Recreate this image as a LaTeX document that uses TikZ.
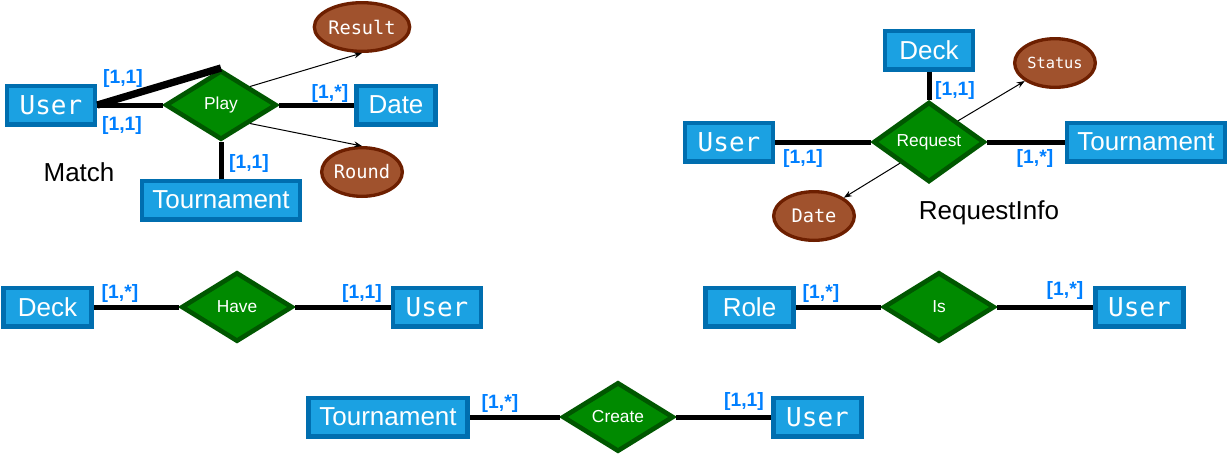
\documentclass[tikz,border=0pt]{standalone}
\usepackage{fontspec}
\setmainfont{Liberation Sans}
\newfontfamily\erMono{DejaVu Sans Mono}
\usetikzlibrary{shapes.geometric,arrows.meta}
\definecolor{entFill}{HTML}{1BA1E2}
\definecolor{entLine}{HTML}{006EAF}
\definecolor{relFill}{HTML}{008A00}
\definecolor{relLine}{HTML}{005700}
\definecolor{attFill}{HTML}{A0522D}
\definecolor{attLine}{HTML}{6D1F00}
\definecolor{cardBlue}{HTML}{007FFF}
\begin{document}
\begin{tikzpicture}[x=0.75pt, y=-0.75pt,
  entity/.style={draw=entLine, fill=entFill, line width=3.5pt, text=white, inner sep=0pt, minimum width=66pt, minimum height=28.75pt, font=\fontsize{19.5}{22}\selectfont},
  monoent/.style={entity, font=\erMono\fontsize{19.5}{22}\selectfont},
  relation/.style={diamond, draw=relLine, fill=relFill, line width=3.5pt, text=white, inner sep=0pt, minimum width=83.5pt, minimum height=52pt, font=\fontsize{13}{15}\selectfont},
  attrib/.style={ellipse, draw=attLine, fill=attFill, line width=2.5pt, text=white, inner sep=0pt, minimum width=60.5pt, minimum height=36.5pt, font=\erMono\fontsize{14}{16}\selectfont},
  card/.style={text=cardBlue, inner sep=0pt, font=\bfseries\fontsize{14.5}{16}\selectfont},
  title/.style={inner sep=0pt, font=\fontsize{19.5}{22}\selectfont},
  link/.style={line width=3.75pt},
  attr link/.style={line width=0.75pt, -{Stealth[length=6pt,width=4.5pt]}}]
\useasboundingbox (0,0) rectangle (1229,458);
% Match
\node[monoent] (userA) at (51,105) {User};
\node[relation] (play) at (221,105) {Play};
\node[entity, minimum width=59.5pt] (dateA) at (396,105) {Date};
\node[entity, minimum width=118.5pt] (tourA) at (221,200) {Tournament};
\node[attrib] (result) at (362,27) {Result};
\node[attrib] (round) at (362,172) {Round};
\node[title] (match) at (79,172) {Match};
\draw[link] (userA.east) -- (play.west);
\draw[line width=5.5pt] (userA.east) -- (play.north);
\draw[link] (play.east) -- (dateA.west);
\draw[link] (play.south) -- (tourA.north);
\draw[attr link] (play.north east) -- (result.south);
\draw[attr link] (play.south east) -- (round.north);
% RequestInfo
\node[entity] (deckB) at (929,50) {Deck};
\node[relation] (request) at (929,142) {Request};
\node[monoent] (userB) at (729,142) {User};
\node[entity, minimum width=118.5pt] (tourB) at (1146,142) {Tournament};
\node[attrib, font=\erMono\fontsize{11.5}{13}\selectfont] (status) at (1055,63) {Status};
\node[attrib] (dateB) at (814,216) {Date};
\node[title] (reqinfo) at (989,213) {RequestInfo};
\draw[link] (deckB.south) -- (request.north);
\draw[link] (userB.east) -- (request.west);
\draw[link] (request.east) -- (tourB.west);
\draw[attr link] (request.north east) -- (status);
\draw[attr link] (request.south west) -- (dateB);
% Have
\node[entity] (deckC) at (47.5,307) {Deck};
\node[relation] (have) at (237,307) {Have};
\node[monoent] (userC) at (437,307) {User};
\draw[link] (deckC) -- (have) -- (userC);
% Is
\node[entity] (role) at (749.5,307) {Role};
\node[relation] (is) at (939,307) {Is};
\node[monoent] (userD) at (1139.5,307) {User};
\draw[link] (role) -- (is) -- (userD);
% Create
\node[entity, minimum width=119.5pt] (tourE) at (388,417) {Tournament};
\node[relation] (create) at (618,417) {Create};
\node[monoent] (userE) at (817.5,417) {User};
\draw[link] (tourE) -- (create) -- (userE);
% cardinalities
\foreach \n/\x/\y/\t in {a/123/78/{[1,1]}, b/122/125/{[1,1]}, c/330/93/{[1,*]}, d/249/163/{[1,1]},
  e/955/90/{[1,1]}, f/803/158/{[1,1]}, g/1035/158/{[1,*]}, h/120/293/{[1,*]}, i/362/293/{[1,1]},
  j/821/293/{[1,*]}, k/1065/290/{[1,*]}, l/500/403/{[1,*]}, m/744/401/{[1,1]}}
  \node[card] (card\n) at (\x,\y) {\t};
\end{tikzpicture}
\end{document}
